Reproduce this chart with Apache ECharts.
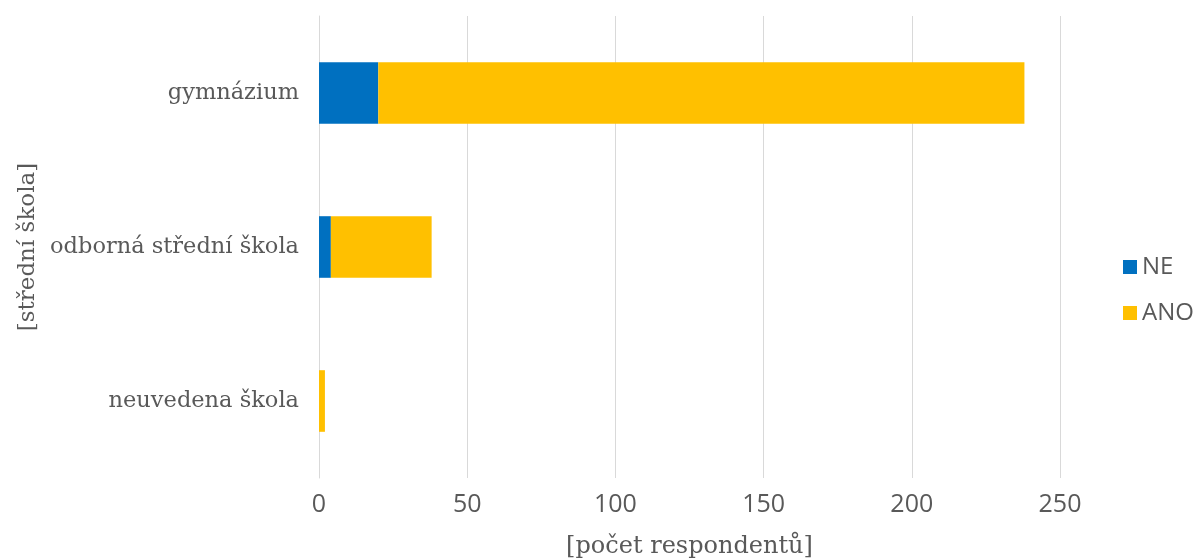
<!DOCTYPE html>
<html><head><meta charset="utf-8">
<script src="https://cdn.jsdelivr.net/npm/echarts@6/dist/echarts.min.js"></script>
<style>html,body{margin:0;padding:0;background:#fff}#c{width:1201px;height:560px}</style>
</head><body><div id="c"></div>
<script>
const categories = ['gymnázium', 'odborná střední škola', 'neuvedena škola'];
const seriesNE = [20, 4, 0];
const seriesANO = [218, 34, 2];
const xTicks = [0, 50, 100, 150, 200, 250];

const chart = echarts.init(document.getElementById('c'));
chart.setOption({
  animation: false,
  backgroundColor: '#fff',
  grid: { left: 319, right: 141, top: 16, bottom: 82, containLabel: false, outerBoundsMode: 'none' },
  legend: {
    orient: 'vertical', left: 1118, top: 250, itemWidth: 14, itemHeight: 14, itemGap: 22,
    icon: 'rect',
    textStyle: { fontFamily: 'Open Sans', fontSize: 24, color: '#595959' },
    data: ['NE', 'ANO']
  },
  xAxis: {
    type: 'value', min: xTicks[0], max: xTicks[xTicks.length - 1], interval: 50,
    name: '[počet respondentů]', nameLocation: 'middle', nameGap: 57, nameMoveOverlap: false,
    nameTextStyle: { fontFamily: 'DejaVu Serif', fontSize: 24, color: '#595959' },
    axisLine: { show: false }, axisTick: { show: false },
    axisLabel: { fontFamily: 'Open Sans', fontSize: 25, color: '#595959', margin: 14 },
    splitLine: { lineStyle: { color: '#d9d9d9', width: 1 } }
  },
  yAxis: {
    type: 'category', data: categories, inverse: true,
    name: '[střední škola]', nameLocation: 'middle', nameGap: 279, nameRotate: 90, nameMoveOverlap: false,
    nameTextStyle: { fontFamily: 'DejaVu Serif', fontSize: 23, color: '#595959' },
    axisLine: { show: true, lineStyle: { color: '#d9d9d9' } }, axisTick: { show: false },
    axisLabel: { fontFamily: 'DejaVu Serif', fontSize: 22.5, color: '#595959', margin: 20 }
  },
  series: [
    { name: 'NE', type: 'bar', stack: 's', data: seriesNE, barWidth: '40%', itemStyle: { color: '#0070c0' } },
    { name: 'ANO', type: 'bar', stack: 's', data: seriesANO, barWidth: '40%', itemStyle: { color: '#ffc000' } }
  ]
});
</script></body></html>
